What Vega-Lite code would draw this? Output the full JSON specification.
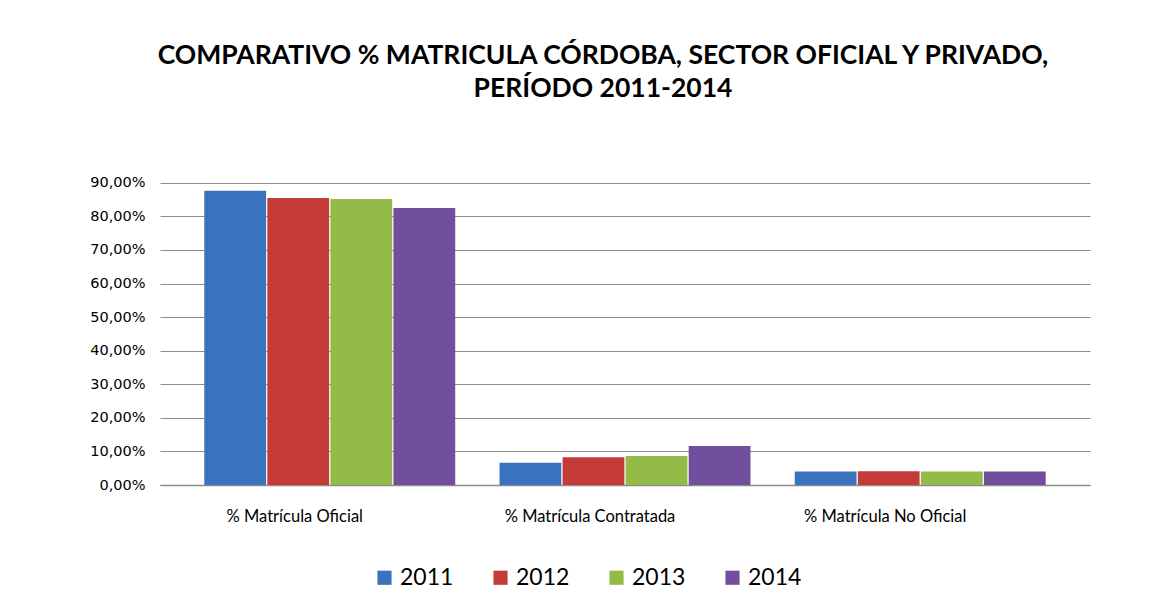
{
  "$schema": "https://vega.github.io/schema/vega-lite/v6.json",
  "autosize": {"type": "none"},
  "width": 930,
  "height": 319,
  "padding": {"left": 160, "top": 166, "right": 77, "bottom": 130},
  "background": "white",
  "title": {
    "text": ["COMPARATIVO % MATRICULA CÓRDOBA, SECTOR OFICIAL Y PRIVADO,", "PERÍODO 2011-2014"],
    "font": "Lato",
    "fontSize": 26.5,
    "fontWeight": "bold",
    "color": "#000000",
    "anchor": "middle",
    "dx": -22,
    "offset": 64,
    "lineHeight": 33
  },
  "data": {
    "values": [
      {"categoria": "% Matrícula Oficial", "anio": "2011", "valor": 87.6},
      {"categoria": "% Matrícula Oficial", "anio": "2012", "valor": 85.5},
      {"categoria": "% Matrícula Oficial", "anio": "2013", "valor": 85.2},
      {"categoria": "% Matrícula Oficial", "anio": "2014", "valor": 82.5},
      {"categoria": "% Matrícula Contratada", "anio": "2011", "valor": 6.6},
      {"categoria": "% Matrícula Contratada", "anio": "2012", "valor": 8.3},
      {"categoria": "% Matrícula Contratada", "anio": "2013", "valor": 8.6},
      {"categoria": "% Matrícula Contratada", "anio": "2014", "valor": 11.6},
      {"categoria": "% Matrícula No Oficial", "anio": "2011", "valor": 4.0},
      {"categoria": "% Matrícula No Oficial", "anio": "2012", "valor": 4.1},
      {"categoria": "% Matrícula No Oficial", "anio": "2013", "valor": 4.0},
      {"categoria": "% Matrícula No Oficial", "anio": "2014", "valor": 4.0}
    ]
  },
  "mark": {"type": "bar", "stroke": null},
  "encoding": {
    "x": {
      "field": "categoria",
      "type": "nominal",
      "sort": ["% Matrícula Oficial", "% Matrícula Contratada", "% Matrícula No Oficial"],
      "scale": {"paddingInner": 0.15, "paddingOuter": 0.15},
      "axis": {
        "title": null,
        "labelAngle": 0,
        "labelFont": "Lato",
        "labelFontSize": 16.5,
        "labelColor": "#000000",
        "labelPadding": 23,
        "labelOffset": -35,
        "ticks": false,
        "domain": true,
        "domainColor": "#8c8c8c",
        "domainWidth": 1.5
      }
    },
    "xOffset": {
      "field": "anio",
      "type": "nominal",
      "scale": {"paddingInner": 0.02}
    },
    "y": {
      "field": "valor",
      "type": "quantitative",
      "scale": {"domain": [0, 95], "nice": false},
      "axis": {
        "title": null,
        "values": [0, 10, 20, 30, 40, 50, 60, 70, 80, 90],
        "labelExpr": "replace(format(datum.value, '.2f'), '.', ',') + '%'",
        "labelFont": "DejaVu Sans",
        "labelFontSize": 14.5,
        "labelColor": "#000000",
        "labelPadding": 15,
        "ticks": false,
        "domain": false,
        "grid": true,
        "gridColor": "#8c8c8c",
        "gridWidth": 1.2
      }
    },
    "color": {
      "field": "anio",
      "type": "nominal",
      "scale": {
        "domain": ["2011", "2012", "2013", "2014"],
        "range": ["#3A72BE", "#C53B37", "#93BB47", "#724F9C"]
      },
      "legend": {
        "title": null,
        "orient": "none",
        "legendX": 213,
        "legendY": 400,
        "direction": "horizontal",
        "symbolType": "square",
        "symbolSize": 200,
        "symbolStrokeWidth": 0,
        "labelFont": "Lato",
        "labelFontSize": 23,
        "labelColor": "#000000",
        "columnPadding": 35,
        "symbolOffset": 0
      }
    }
  },
  "config": {
    "view": {"stroke": null}
  }
}
